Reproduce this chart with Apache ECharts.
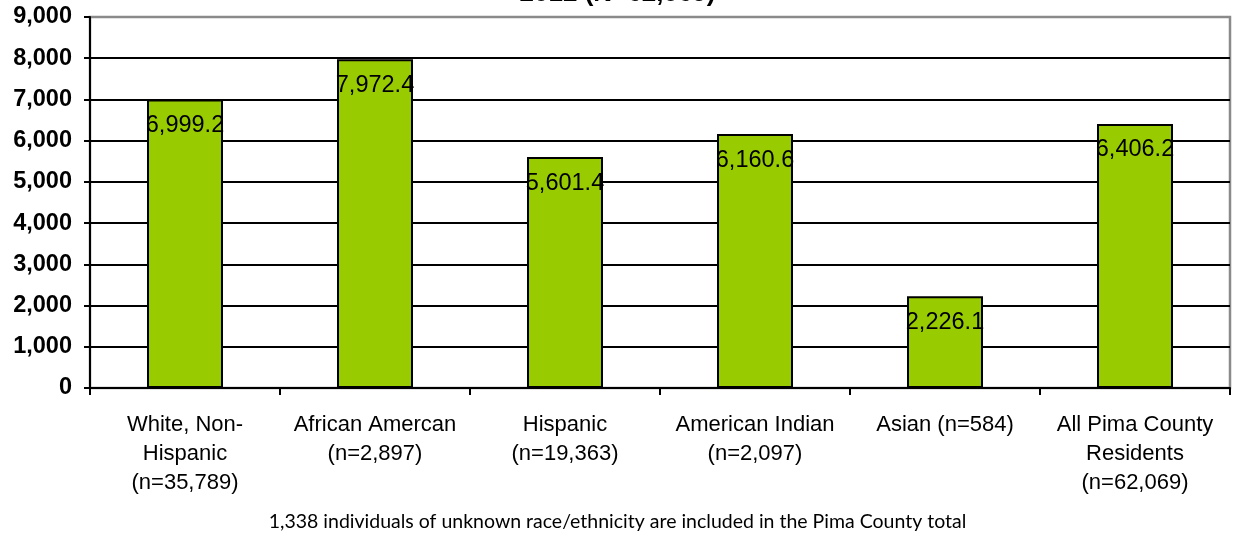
<!DOCTYPE html>
<html>
<head>
<meta charset="utf-8">
<script src="https://cdn.jsdelivr.net/npm/echarts@6/dist/echarts.min.js"></script>
<style>
  html, body { margin: 0; padding: 0; background: #ffffff; }
  #chart { width: 1235px; height: 535px; }
</style>
</head>
<body>
<div id="chart"></div>
<script>
// Groups shown along the horizontal axis (with group sizes)
const categories = [
  'White, Non-\nHispanic\n(n=35,789)',
  'African Amercan\n(n=2,897)',
  'Hispanic\n(n=19,363)',
  'American Indian\n(n=2,097)',
  'Asian (n=584)',
  'All Pima County\nResidents\n(n=62,069)'
];
// Rate for each group
const rates = [6999.2, 7972.4, 5601.4, 6160.6, 2226.1, 6406.2];
// Value axis range
const yMin = 0;
const yMax = 9000;
const yStep = 1000;

const titleText = '2012 (N=62,069)';
const footnote = '1,338 individuals of unknown race/ethnicity are included in the Pima County total';

function withCommas(v, digits) {
  return Number(v).toLocaleString('en-US', {
    minimumFractionDigits: digits,
    maximumFractionDigits: digits
  });
}

const chart = echarts.init(document.getElementById('chart'), null, { renderer: 'canvas' });

chart.setOption({
  backgroundColor: '#ffffff',
  animation: false,
  title: {
    text: titleText,
    left: 'center',
    top: -24,
    textStyle: {
      fontFamily: 'Liberation Sans, Arial, sans-serif',
      fontWeight: 'bold',
      fontSize: 26,
      color: '#000000'
    }
  },
  grid: {
    left: 90,
    right: 5,
    top: 17,
    bottom: 147,
    show: true,
    borderColor: '#8a8a8a',
    borderWidth: 2.5,
    backgroundColor: 'transparent'
  },
  xAxis: {
    type: 'category',
    data: categories,
    boundaryGap: true,
    axisLine: { show: true, lineStyle: { color: '#000000', width: 2 } },
    axisTick: {
      show: true,
      alignWithLabel: false,
      interval: 0,
      length: 7,
      lineStyle: { color: '#000000', width: 2 }
    },
    axisLabel: {
      interval: 0,
      margin: 22,
      fontFamily: 'Liberation Sans, Arial, sans-serif',
      fontSize: 22,
      lineHeight: 29,
      color: '#000000',
      align: 'center'
    },
    splitLine: { show: false }
  },
  yAxis: {
    type: 'value',
    min: yMin,
    max: yMax,
    interval: yStep,
    axisLine: { show: true, lineStyle: { color: '#000000', width: 2 } },
    axisTick: { show: true, length: 6, lineStyle: { color: '#000000', width: 2 } },
    axisLabel: {
      margin: 18,
      fontFamily: 'Liberation Sans, Arial, sans-serif',
      fontWeight: 'bold',
      fontSize: 23.5,
      color: '#000000',
      formatter: v => withCommas(v, 0)
    },
    splitLine: {
      show: true,
      showMinLine: false,
      showMaxLine: false,
      lineStyle: { color: '#000000', width: 2 }
    }
  },
  series: [{
    type: 'bar',
    data: rates,
    barWidth: '40%',
    itemStyle: {
      color: '#99cc00',
      borderColor: '#000000',
      borderWidth: 2
    },
    label: {
      show: true,
      position: 'insideTop',
      distance: 14,
      fontFamily: 'Liberation Sans, Arial, sans-serif',
      fontSize: 23.5,
      color: '#000000',
      formatter: p => withCommas(p.value, 1)
    }
  }],
  graphic: [{
    type: 'text',
    left: 'center',
    top: 512,
    style: {
      text: footnote,
      fontFamily: 'Lato, "Open Sans", sans-serif',
      fontSize: 19.5,
      fill: '#000000'
    }
  }]
});
</script>
</body>
</html>
